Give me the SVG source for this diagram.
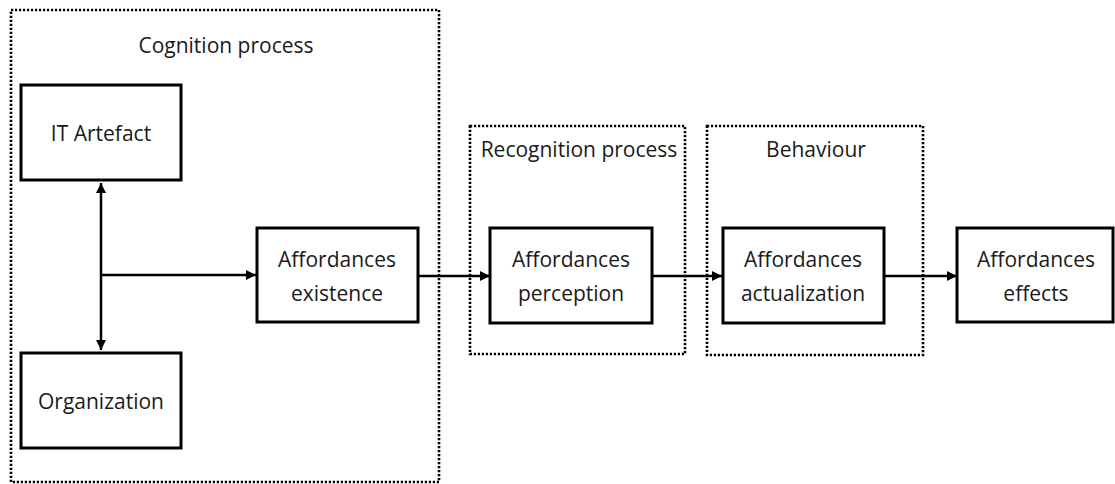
<svg xmlns="http://www.w3.org/2000/svg" width="1115" height="484" viewBox="0 0 1115 484">
<style>
.box{fill:#fff;stroke:#000;stroke-width:3}
.grp{fill:none;stroke:#000;stroke-width:2.6;stroke-dasharray:2.2 1.8}
.lbl{font-family:"Open Sans","Liberation Sans",sans-serif;font-size:21px;fill:#1a1a1a;text-anchor:middle}
.conn{fill:none;stroke:#000;stroke-width:2.5}
</style>
<defs>
<marker id="ah" viewBox="0 0 10 10" refX="10" refY="5" markerWidth="4" markerHeight="4" orient="auto-start-reverse" markerUnits="strokeWidth">
<path d="M0,0 L10,5 L0,10 z" fill="#000"/>
</marker>
</defs>
<g id="cognition-process">
<rect class="grp" x="11" y="10" width="428" height="472"/>
<text class="lbl" x="226" y="53">Cognition process</text>
</g>
<g id="recognition-process">
<rect class="grp" x="470" y="126" width="215" height="228"/>
<text class="lbl" x="579" y="157">Recognition process</text>
</g>
<g id="behaviour">
<rect class="grp" x="707" y="126" width="216" height="229"/>
<text class="lbl" x="816" y="157">Behaviour</text>
</g>
<g id="connectors">
<line class="conn" x1="101" y1="183" x2="101" y2="350" marker-start="url(#ah)" marker-end="url(#ah)"/>
<line class="conn" x1="101" y1="275" x2="256" y2="275" marker-end="url(#ah)"/>
<line class="conn" x1="418" y1="276" x2="490" y2="276" marker-end="url(#ah)"/>
<line class="conn" x1="652" y1="276" x2="722" y2="276" marker-end="url(#ah)"/>
<line class="conn" x1="884" y1="276" x2="957" y2="276" marker-end="url(#ah)"/>
</g>
<g id="it-artefact">
<rect class="box" x="21" y="85" width="160" height="95"/>
<text class="lbl" x="101" y="141">IT Artefact</text>
</g>
<g id="organization">
<rect class="box" x="21" y="353" width="160" height="95"/>
<text class="lbl" x="101" y="409">Organization</text>
</g>
<g id="affordances-existence">
<rect class="box" x="257" y="228" width="161" height="94"/>
<text class="lbl" x="337" y="267">Affordances</text>
<text class="lbl" x="337" y="301">existence</text>
</g>
<g id="affordances-perception">
<rect class="box" x="490" y="228" width="162" height="95"/>
<text class="lbl" x="571" y="267">Affordances</text>
<text class="lbl" x="571" y="301">perception</text>
</g>
<g id="affordances-actualization">
<rect class="box" x="723" y="228" width="161" height="95"/>
<text class="lbl" x="803" y="267">Affordances</text>
<text class="lbl" x="803" y="301">actualization</text>
</g>
<g id="affordances-effects">
<rect class="box" x="957" y="228" width="156" height="94"/>
<text class="lbl" x="1036" y="267">Affordances</text>
<text class="lbl" x="1036" y="301">effects</text>
</g>
</svg>
